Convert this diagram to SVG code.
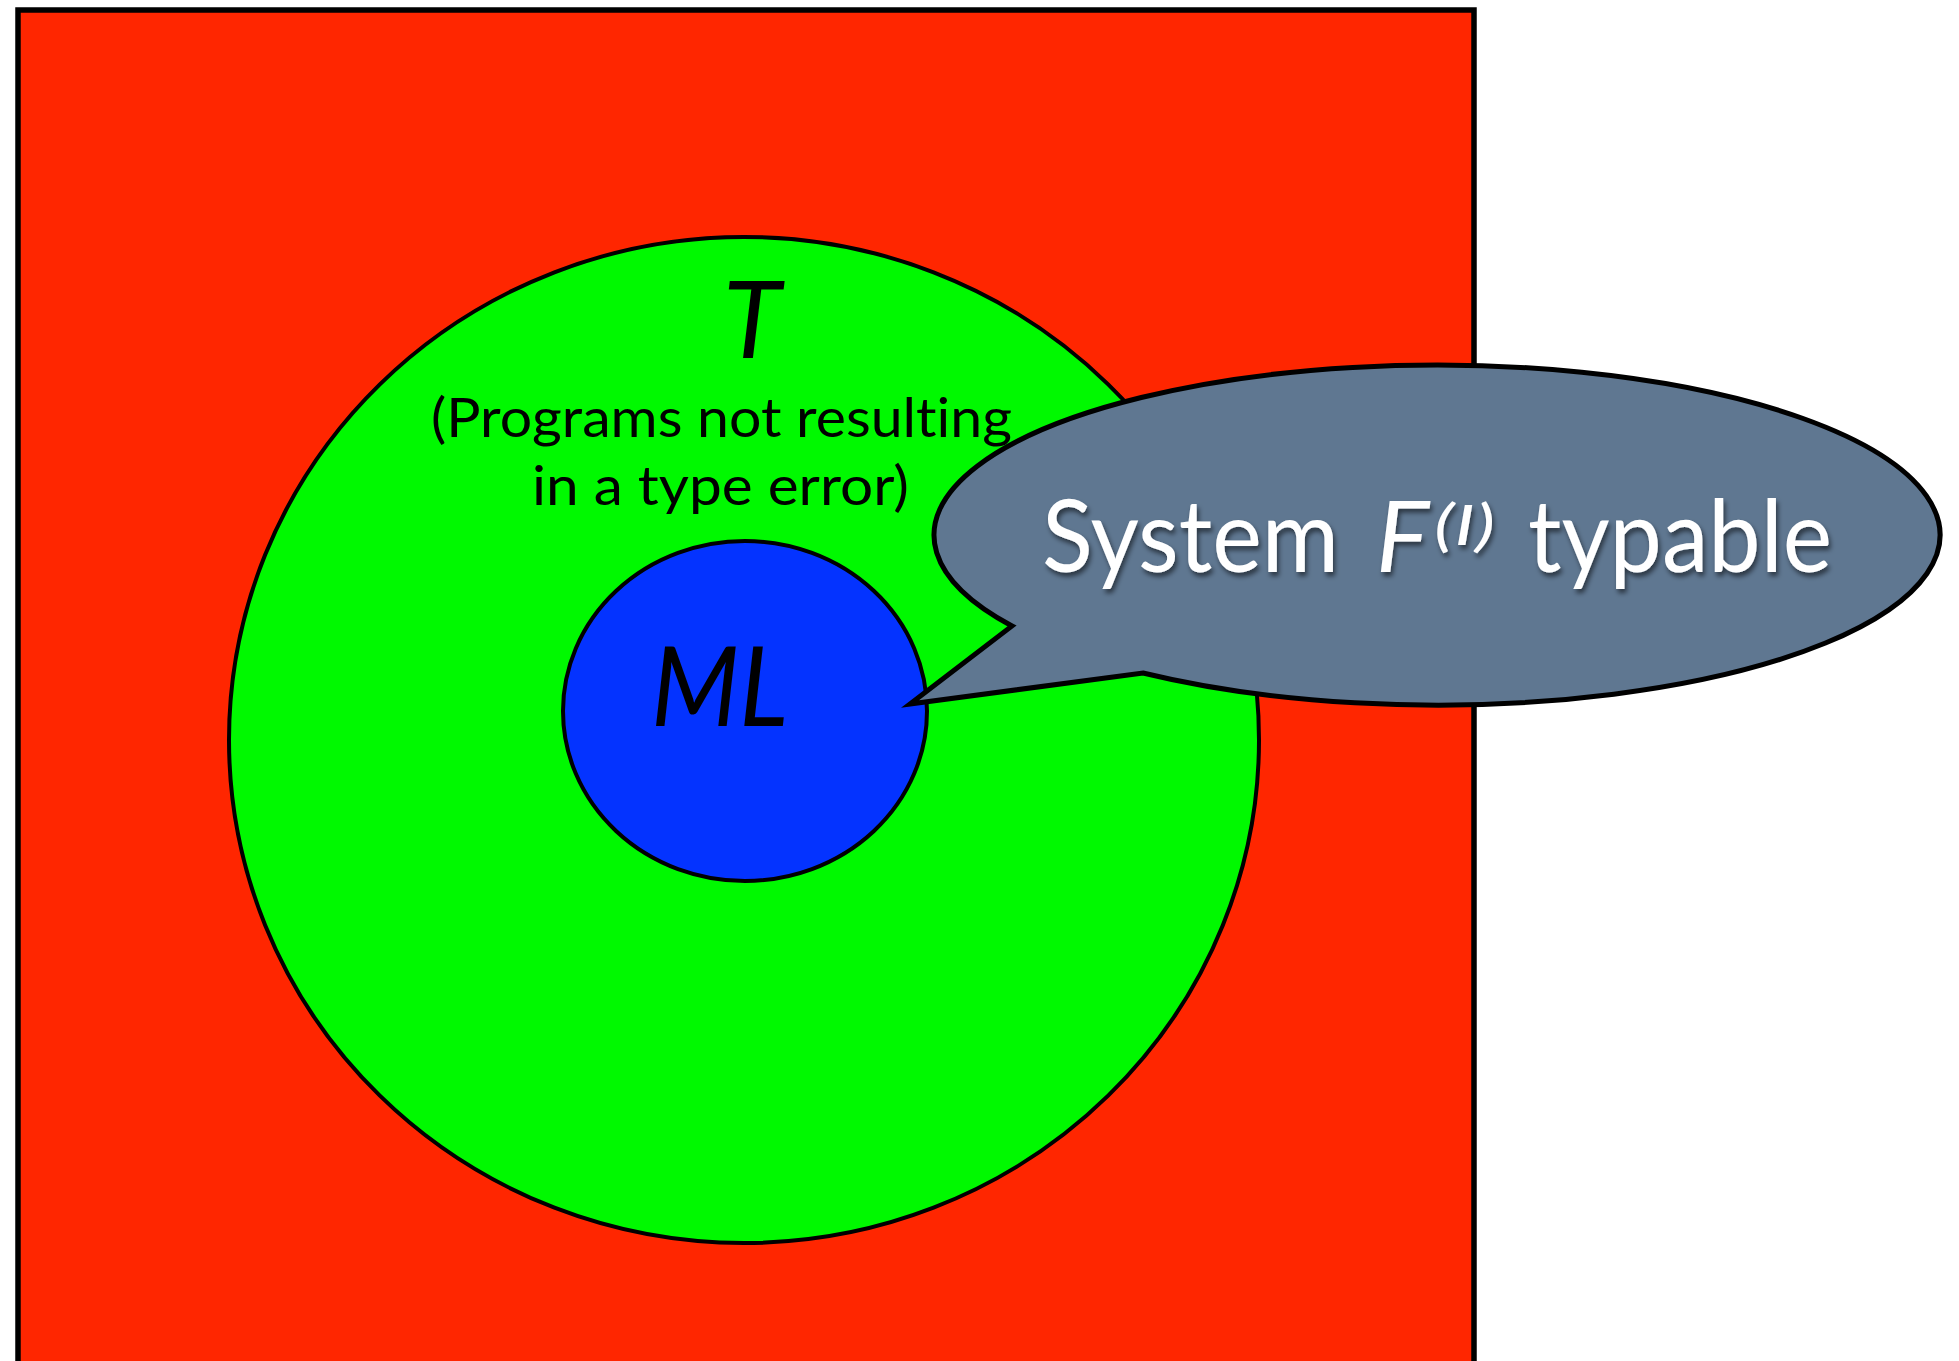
<svg xmlns="http://www.w3.org/2000/svg" width="1959" height="1361" viewBox="0 0 1959 1361">
  <style>
    .lbl { font-family: Lato, "Open Sans", "Liberation Sans", sans-serif; fill: #000; font-variant-ligatures: none; }
    .it { font-style: italic; }
    .bub { font-family: Lato, "Open Sans", "Liberation Sans", sans-serif; fill: #fff; font-variant-ligatures: none; }
  </style>
  <defs>
    <filter id="shadow" x="-10%" y="-20%" width="120%" height="140%">
      <feDropShadow dx="2" dy="4" stdDeviation="2.5" flood-color="#000" flood-opacity="0.55"/>
    </filter>
  </defs>
  <rect width="1959" height="1361" fill="#fff"/>
  <g id="universe">
    <rect x="18" y="10" width="1456" height="1400" fill="#FF2600" stroke="#000" stroke-width="5.5"/>
  </g>
  <g id="T">
    <ellipse cx="744" cy="740" rx="515" ry="503" fill="#00F900" stroke="#000" stroke-width="4"/>
    <text class="lbl it" x="752" y="358" font-size="106" text-anchor="middle">T</text>
    <text class="lbl" x="431" y="437" font-size="55" textLength="581" lengthAdjust="spacingAndGlyphs">(Programs not resulting</text>
    <text class="lbl" x="532" y="505" font-size="55" textLength="377" lengthAdjust="spacingAndGlyphs">in a type error)</text>
  </g>
  <g id="ML">
    <ellipse cx="745" cy="711" rx="182" ry="170" fill="#0433FF" stroke="#000" stroke-width="4"/>
    <text class="lbl it" x="651" y="726" font-size="110" textLength="137" lengthAdjust="spacingAndGlyphs">ML</text>
  </g>
  <g id="callout">
    <path d="M1012,626 A503,170 0 1 1 1143,673 L910,704 Z" fill="#5F7791" stroke="#000" stroke-width="5" stroke-linejoin="miter"/>
    <g filter="url(#shadow)">
      <text class="bub" x="1042" y="572" font-size="100" textLength="297" lengthAdjust="spacingAndGlyphs">System</text>
      <text class="bub it" x="1376" y="572" font-size="100">F</text>
      <text class="bub it" x="1434" y="545" font-size="56" textLength="61" lengthAdjust="spacingAndGlyphs">(I)</text>
      <text class="bub" x="1528" y="572" font-size="100" textLength="304" lengthAdjust="spacingAndGlyphs">typable</text>
    </g>
  </g>
</svg>
